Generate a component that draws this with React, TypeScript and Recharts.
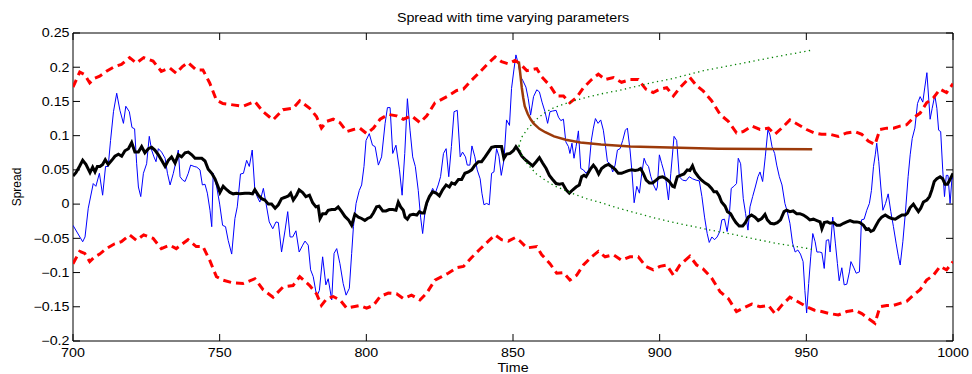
import React from 'react';
import { LineChart, Line, XAxis, YAxis, ReferenceArea } from 'recharts';

const W = 972;
const H = 374;
const PL = 73;
const PR = 953;
const PT = 33;
const PB = 341;
const TICK = 7;
const FONT = '"Liberation Sans", Arial, sans-serif';
const SX = 1.19;

const xTicks = [700, 750, 800, 850, 900, 950, 1000];
const xTickLabels = ['700', '750', '800', '850', '900', '950', '1000'];
const yTicks = [0.25, 0.2, 0.15, 0.1, 0.05, 0, -0.05, -0.1, -0.15, -0.2];
const yTickLabels = ['0.25', '0.2', '0.15', '0.1', '0.05', '0', '\u22120.05', '\u22120.1', '\u22120.15', '\u22120.2'];

const titleText = 'Spread with time varying parameters';
const xLabelText = 'Time';
const yLabelText = 'Spread';

// observed spread (thin blue)
const spreadT = [700, 703.3, 704.1, 705.2, 706.9, 707.8, 709, 710.1, 711.1, 712, 712.8, 713.8, 714.9, 716, 717.2, 718, 719.2, 720.1, 721, 721.7, 722.3, 723.1, 724, 725.1, 726, 726.8, 727.6, 728.3, 729.1, 730.2, 731.4, 732.2, 733.1, 734.2, 735.1, 735.9, 736.5, 737.4, 738.2, 739.3, 740.1, 741.3, 742.2, 743.3, 744.1, 745, 745.8, 746.7, 747.3, 747.8, 749, 750, 751, 752, 752.9, 754.1, 755.2, 756, 757.1, 758.1, 759.2, 760.1, 761.1, 762, 762.8, 763.7, 764.9, 765.8, 766.9, 768.1, 769.2, 770, 771.1, 772.3, 773.2, 774, 774.9, 776, 777.1, 778.3, 779.1, 780.2, 781, 781.9, 783.1, 784, 785.1, 786.2, 787, 788.2, 789, 789.9, 791, 792.1, 793.1, 794.2, 795, 795.6, 796.5, 797.6, 798.4, 799.2, 799.9, 801, 802.1, 803, 804.1, 805.2, 806.4, 807.2, 808.1, 809, 810.1, 811.3, 812.2, 813.1, 814, 814.9, 815.8, 816.7, 817.7, 818.5, 819.2, 820, 820.8, 821.7, 822.6, 823.5, 824.5, 825.3, 826.3, 827.2, 828.1, 829, 829.9, 831, 832, 832.8, 833.8, 834.4, 835.3, 836, 837, 837.8, 838.8, 839.4, 840.1, 841, 841.9, 842.7, 843.5, 844.4, 845.2, 846, 846.9, 847.8, 848.8, 849.5, 850.3, 851, 851.8, 852.6, 853.3, 854.4, 855.2, 856, 857, 858.1, 859, 859.9, 860.9, 861.8, 862.6, 863.5, 864.7, 865.5, 866.3, 867.2, 868, 868.9, 869.4, 870.1, 870.8, 871.5, 872.3, 873.1, 874, 874.9, 875.8, 876.7, 877.4, 878.1, 879, 879.9, 880.8, 881.5, 882.2, 883.1, 884, 884.8, 885.6, 886.5, 887.4, 888.3, 889, 889.9, 890.5, 891.3, 892.2, 893.1, 893.9, 894.7, 895.4, 896.2, 897, 897.9, 898.8, 899.2, 899.9, 900.7, 901.5, 902.2, 903, 903.8, 904.9, 905.8, 906.7, 907.8, 909, 910.1, 911.2, 912.4, 913.5, 914.4, 915.3, 916.2, 916.9, 917.8, 918.7, 919.6, 920.5, 921.2, 922.1, 923, 923.7, 924.4, 925.3, 926.2, 926.8, 927.6, 928.5, 929.3, 930.1, 930.8, 931.7, 932.6, 933.5, 934.2, 935.1, 936, 936.9, 937.6, 938.3, 939.2, 939.9, 940.8, 941.7, 942.7, 943.5, 944.4, 945.3, 946.2, 947.1, 948, 948.9, 949.5, 950.1, 950.8, 951.5, 952.2, 953, 953.6, 954.5, 955.3, 956.1, 956.8, 957.6, 958.1, 959, 959.9, 960.6, 961.2, 962.1, 962.9, 963.8, 964.7, 965.2, 966.1, 967, 968.1, 968.8, 969.7, 970.6, 971.5, 972.2, 972.9, 973.5, 974, 974.7, 975.4, 976.1, 977, 977.9, 978.8, 979.7, 980.6, 981.4, 982, 982.9, 983.8, 984.7, 985.4, 986.1, 987, 987.9, 988.8, 989.7, 990.4, 991.1, 991.8, 992.2, 992.9, 993.8, 994.5, 995.1, 995.8, 996.5, 997.1, 997.7, 998.3, 999, 999.6, 1000];
const spreadV = [-0.031, -0.055, -0.048, -0.006, 0.03, 0.026, 0.045, 0.013, 0.055, 0.055, 0.093, 0.135, 0.162, 0.137, 0.118, 0.143, 0.135, 0.112, 0.11, 0.059, 0.025, 0.011, 0.045, 0.059, 0.099, 0.079, 0.069, 0.062, 0.081, 0.076, 0.067, 0.045, 0.028, 0.045, 0.062, 0.079, 0.04, 0.035, 0.033, 0.045, 0.057, 0.055, 0.054, 0.05, 0.028, 0.029, 0.016, -0.009, -0.033, 0.045, 0.025, 0.0, -0.031, -0.033, -0.053, -0.073, -0.021, -0.004, 0.044, 0.045, 0.064, 0.055, 0.079, 0.02, 0.011, 0.003, 0.023, 0.001, -0.026, -0.036, -0.026, -0.027, -0.07, -0.038, -0.011, -0.048, -0.048, -0.039, -0.07, -0.06, -0.054, -0.06, -0.096, -0.106, -0.135, -0.126, -0.077, -0.118, -0.109, -0.14, -0.072, -0.065, -0.087, -0.116, -0.133, -0.123, -0.072, -0.033, 0.001, 0.02, 0.028, 0.055, 0.093, 0.103, 0.086, 0.084, 0.057, 0.069, 0.118, 0.141, 0.141, 0.074, 0.086, 0.05, 0.013, 0.074, 0.154, 0.108, 0.069, 0.055, 0.02, -0.019, -0.043, -0.011, 0.001, 0.013, 0.023, 0.016, 0.028, 0.04, 0.074, 0.081, 0.04, 0.084, 0.135, 0.137, 0.069, 0.076, 0.069, 0.057, 0.057, 0.085, 0.069, 0.05, 0.037, 0.016, -0.001, 0.001, -0.001, 0.045, 0.047, 0.081, 0.07, 0.042, 0.064, 0.123, 0.115, 0.169, 0.196, 0.218, 0.205, 0.186, 0.181, 0.171, 0.154, 0.13, 0.157, 0.167, 0.164, 0.149, 0.135, 0.118, 0.135, 0.136, 0.137, 0.127, 0.122, 0.124, 0.091, 0.084, 0.074, 0.089, 0.067, 0.084, 0.107, 0.052, 0.05, 0.045, 0.05, 0.093, 0.111, 0.125, 0.118, 0.123, 0.108, 0.086, 0.062, 0.059, 0.047, 0.057, 0.079, 0.081, 0.093, 0.108, 0.111, 0.079, 0.05, 0.002, 0.026, 0.016, 0.045, 0.067, 0.059, 0.055, 0.04, 0.028, 0.02, 0.025, 0.072, 0.059, 0.047, 0.033, 0.006, 0.045, 0.099, 0.093, 0.04, 0.035, 0.034, 0.04, 0.037, 0.035, 0.034, 0.011, -0.019, -0.043, -0.056, -0.048, -0.052, -0.048, -0.04, -0.023, -0.022, -0.04, -0.019, 0.023, 0.026, 0.03, 0.067, 0.059, 0.008, -0.014, -0.038, -0.004, 0.011, 0.025, 0.04, 0.047, 0.033, 0.069, 0.109, 0.101, 0.084, 0.074, 0.057, 0.04, 0.028, 0.001, -0.011, -0.028, -0.057, -0.07, -0.067, -0.073, -0.084, -0.126, -0.159, -0.116, -0.077, -0.043, -0.055, -0.07, -0.07, -0.071, -0.094, -0.053, -0.052, -0.07, -0.019, -0.057, -0.087, -0.112, -0.093, -0.118, -0.117, -0.099, -0.084, -0.092, -0.101, -0.099, -0.023, -0.022, -0.009, 0.001, 0.02, 0.055, 0.072, 0.089, 0.062, 0.025, -0.009, 0.001, 0.015, -0.011, -0.033, -0.057, -0.077, -0.089, -0.055, -0.011, 0.04, 0.072, 0.096, 0.111, 0.147, 0.157, 0.149, 0.171, 0.192, 0.149, 0.124, 0.14, 0.159, 0.14, 0.108, 0.106, 0.05, 0.011, 0.042, 0.042, 0.001, 0.035, 0.04];

// time varying mean (thick black)
const meanT = [700, 701, 702.2, 703.3, 704.4, 705.8, 706.7, 707.5, 708.3, 709.2, 710.1, 711, 712, 713.2, 714.3, 715.5, 716.6, 717.7, 718.9, 720, 721.1, 722.3, 723.4, 724.5, 725.7, 726.8, 727.9, 729.1, 730.2, 731.4, 732.5, 733.6, 734.8, 735.9, 737, 738.2, 739.3, 740.5, 741.6, 742.7, 743.9, 745, 746.1, 747.3, 748.4, 749.5, 750.1, 751.2, 752.4, 753.5, 754.6, 755.8, 756.9, 758.6, 760.1, 761.2, 762, 763.2, 764.3, 765.4, 766.6, 767.7, 768.9, 770, 771.1, 772.3, 773.4, 774.2, 775.1, 776.2, 777.1, 778.3, 779.4, 780.6, 781.7, 782.8, 783.6, 784.2, 785.1, 786.2, 787, 788.2, 789.3, 790.4, 791.6, 792.7, 793.9, 795, 796.1, 797.3, 798.4, 799.5, 800.4, 801.5, 802.4, 803.5, 804.4, 805.6, 806.7, 807.8, 809, 810.1, 810.9, 811.7, 812.6, 813.2, 814, 814.9, 816, 817.2, 818.1, 818.9, 819.7, 820.6, 821.5, 822.6, 823.8, 824.9, 826, 827.2, 828.3, 829.1, 830.2, 831.4, 832.5, 833.6, 834.8, 835.9, 837, 838.2, 839.3, 840.5, 841.6, 842.7, 843.9, 845, 846.1, 846.9, 847.8, 849, 850.1, 851, 851.8, 853, 854.4, 855.6, 856.7, 857.9, 859, 860.1, 861.3, 862.4, 863.5, 864.7, 865.8, 866.9, 868.1, 869.2, 870.4, 871.5, 872.6, 873.4, 874.2, 874.9, 875.7, 876.5, 877.4, 878.3, 879.2, 880.2, 881.4, 882.5, 883.6, 884.8, 885.9, 887, 888.2, 889.3, 890.5, 891.6, 892.7, 893.5, 894.4, 895.4, 896.5, 897.6, 898.8, 899.9, 901, 902.2, 903.3, 904.4, 905, 906, 907.1, 908.3, 909.4, 910.3, 911.2, 912, 913.2, 914.3, 915.4, 916.6, 917.7, 918.5, 919.4, 920.3, 921.1, 922.3, 923.1, 924.2, 925.1, 926, 927.1, 928.3, 929.2, 930.2, 931.3, 932.5, 933.6, 934.8, 935.9, 936.7, 937.8, 939, 940.1, 941.2, 942.4, 943.3, 944.4, 945.5, 946.7, 947.8, 949, 950.1, 951.2, 952.4, 953.6, 954.7, 955.3, 956.1, 957.2, 958.1, 959.3, 960.4, 961.5, 962.7, 963.8, 964.9, 966.1, 967.2, 968.3, 969.5, 970.4, 971.2, 972, 972.9, 973.8, 974.7, 975.7, 976.9, 978, 979.1, 980.3, 981.4, 982.6, 983.7, 984.5, 985.4, 986.5, 987.4, 988.2, 989, 989.9, 991.1, 992, 992.8, 993.6, 994.5, 995.6, 996.5, 997.3, 998.1, 999, 1000];
const meanV = [0.041, 0.046, 0.055, 0.064, 0.058, 0.046, 0.054, 0.047, 0.055, 0.055, 0.058, 0.065, 0.058, 0.064, 0.07, 0.073, 0.07, 0.078, 0.081, 0.09, 0.076, 0.076, 0.084, 0.075, 0.081, 0.083, 0.079, 0.072, 0.064, 0.055, 0.064, 0.069, 0.06, 0.072, 0.069, 0.075, 0.076, 0.072, 0.067, 0.067, 0.067, 0.063, 0.051, 0.045, 0.037, 0.025, 0.017, 0.026, 0.021, 0.017, 0.015, 0.016, 0.015, 0.016, 0.016, 0.015, 0.021, 0.013, 0.008, 0.006, 0.0, 0.0, -0.006, -0.001, 0.008, 0.01, 0.012, 0.016, 0.006, 0.013, 0.021, 0.017, 0.011, 0.013, 0.002, -0.004, -0.003, -0.021, -0.014, -0.014, -0.009, -0.008, -0.008, -0.004, -0.011, -0.018, -0.023, -0.031, -0.015, -0.019, -0.021, -0.024, -0.021, -0.019, -0.013, -0.004, -0.003, -0.01, -0.01, -0.008, -0.008, -0.009, 0.003, -0.004, -0.009, -0.019, -0.022, -0.016, -0.015, -0.016, -0.011, -0.013, -0.013, 0.002, 0.011, 0.018, 0.016, 0.012, 0.021, 0.028, 0.025, 0.031, 0.029, 0.036, 0.036, 0.045, 0.047, 0.05, 0.057, 0.062, 0.062, 0.069, 0.076, 0.083, 0.084, 0.084, 0.084, 0.067, 0.073, 0.074, 0.078, 0.084, 0.079, 0.07, 0.064, 0.06, 0.056, 0.062, 0.068, 0.06, 0.052, 0.042, 0.036, 0.03, 0.029, 0.03, 0.021, 0.016, 0.021, 0.025, 0.028, 0.04, 0.042, 0.04, 0.046, 0.052, 0.057, 0.052, 0.044, 0.052, 0.056, 0.058, 0.055, 0.051, 0.045, 0.045, 0.047, 0.049, 0.05, 0.049, 0.05, 0.052, 0.045, 0.035, 0.031, 0.031, 0.035, 0.039, 0.04, 0.037, 0.033, 0.026, 0.025, 0.04, 0.042, 0.044, 0.05, 0.049, 0.056, 0.047, 0.04, 0.035, 0.031, 0.028, 0.023, 0.018, 0.018, 0.012, 0.003, -0.003, -0.011, -0.014, -0.021, -0.027, -0.032, -0.032, -0.027, -0.019, -0.016, -0.019, -0.024, -0.021, -0.015, -0.023, -0.028, -0.029, -0.027, -0.023, -0.011, -0.009, -0.011, -0.01, -0.014, -0.014, -0.016, -0.019, -0.023, -0.022, -0.024, -0.026, -0.036, -0.027, -0.026, -0.028, -0.027, -0.031, -0.031, -0.028, -0.026, -0.024, -0.026, -0.026, -0.027, -0.031, -0.037, -0.036, -0.04, -0.038, -0.031, -0.024, -0.019, -0.016, -0.019, -0.021, -0.022, -0.019, -0.016, -0.016, -0.013, -0.005, 0.0, -0.006, -0.011, -0.006, 0.003, 0.006, 0.011, 0.021, 0.033, 0.037, 0.04, 0.037, 0.029, 0.029, 0.036, 0.045];

// confidence bands (red dashed)
const bandT = [700, 702.3, 704, 705.7, 707.4, 709.1, 711.4, 714.2, 716.5, 719.3, 721.6, 724.1, 727.3, 730.1, 733, 735.2, 737.3, 739.2, 742, 744.3, 746.6, 748.9, 751.1, 754.5, 758, 762, 764.8, 768.2, 771.6, 775, 777.3, 780.7, 783, 784.7, 786.5, 788.7, 791, 793.3, 795.6, 797.8, 800.1, 802.4, 804.7, 807.5, 810.3, 812.6, 815.4, 818.3, 820.6, 823.4, 825.7, 827.9, 830.8, 833.1, 835.9, 838.7, 841.6, 843.9, 846.1, 848.4, 850.7, 852.4, 854.7, 858.1, 859.8, 862.6, 864.9, 867.2, 869.4, 871.7, 874, 876.8, 879.1, 881.4, 884.2, 887, 889.9, 892.7, 895.3, 897.8, 900.1, 902.4, 904.7, 906.9, 910.3, 912.6, 914.9, 917.7, 920.6, 923.4, 926.2, 928.5, 931.4, 934.2, 937.1, 939.3, 941.6, 944.4, 947.3, 950.1, 952.8, 955.2, 958, 960.9, 963.8, 966.6, 968.9, 971.1, 973.4, 975.1, 977.4, 979.7, 981.9, 984.2, 986.5, 988.8, 991, 993.3, 995.6, 997.8, 1000];
const upperV = [0.171, 0.193, 0.189, 0.177, 0.184, 0.187, 0.194, 0.201, 0.204, 0.214, 0.206, 0.214, 0.209, 0.194, 0.199, 0.191, 0.201, 0.207, 0.196, 0.196, 0.177, 0.152, 0.147, 0.145, 0.143, 0.15, 0.135, 0.123, 0.138, 0.14, 0.151, 0.14, 0.128, 0.111, 0.121, 0.124, 0.119, 0.106, 0.109, 0.111, 0.103, 0.111, 0.124, 0.131, 0.129, 0.124, 0.129, 0.119, 0.129, 0.148, 0.153, 0.158, 0.166, 0.168, 0.181, 0.193, 0.206, 0.215, 0.208, 0.205, 0.21, 0.205, 0.195, 0.198, 0.186, 0.173, 0.158, 0.158, 0.148, 0.156, 0.17, 0.182, 0.19, 0.182, 0.185, 0.178, 0.182, 0.182, 0.168, 0.163, 0.168, 0.17, 0.158, 0.17, 0.185, 0.173, 0.165, 0.151, 0.131, 0.121, 0.104, 0.106, 0.114, 0.109, 0.111, 0.102, 0.111, 0.123, 0.116, 0.109, 0.104, 0.102, 0.102, 0.099, 0.104, 0.106, 0.102, 0.092, 0.087, 0.109, 0.111, 0.111, 0.114, 0.116, 0.126, 0.133, 0.148, 0.155, 0.168, 0.163, 0.176];
const lowerV = [-0.087, -0.069, -0.072, -0.084, -0.077, -0.073, -0.065, -0.058, -0.055, -0.045, -0.053, -0.045, -0.05, -0.065, -0.06, -0.065, -0.058, -0.052, -0.062, -0.062, -0.082, -0.106, -0.111, -0.115, -0.116, -0.109, -0.125, -0.136, -0.121, -0.119, -0.106, -0.119, -0.131, -0.148, -0.138, -0.135, -0.14, -0.152, -0.15, -0.148, -0.152, -0.148, -0.135, -0.13, -0.131, -0.138, -0.133, -0.14, -0.13, -0.111, -0.106, -0.101, -0.093, -0.091, -0.078, -0.066, -0.054, -0.045, -0.052, -0.054, -0.049, -0.054, -0.064, -0.062, -0.074, -0.087, -0.101, -0.1, -0.111, -0.104, -0.089, -0.077, -0.069, -0.077, -0.074, -0.082, -0.077, -0.077, -0.091, -0.096, -0.091, -0.089, -0.104, -0.089, -0.076, -0.089, -0.095, -0.108, -0.128, -0.138, -0.157, -0.152, -0.146, -0.15, -0.148, -0.16, -0.148, -0.136, -0.143, -0.15, -0.155, -0.157, -0.16, -0.162, -0.157, -0.155, -0.16, -0.167, -0.174, -0.15, -0.148, -0.148, -0.145, -0.142, -0.133, -0.125, -0.111, -0.104, -0.091, -0.096, -0.084];

// forecast interval (green dotted)
const fcT = [852, 853, 855, 858, 861, 864, 870, 875, 880, 886, 892, 898, 904, 915, 926, 938, 952];
const fcUpperV = [0.085, 0.098, 0.11, 0.124, 0.134, 0.141, 0.15, 0.156, 0.161, 0.166, 0.172, 0.178, 0.183, 0.195, 0.204, 0.214, 0.225];
const fcLowerV = [0.085, 0.072, 0.058, 0.044, 0.035, 0.027, 0.016, 0.008, 0.002, -0.006, -0.013, -0.02, -0.026, -0.036, -0.045, -0.056, -0.066];

// forecast path (brown)
const pathT = [852, 852.5, 853, 853.5, 854, 855, 856, 857, 859, 861, 864, 868, 873, 880, 890, 900, 920, 952];
const pathV = [0.208, 0.19, 0.17, 0.155, 0.143, 0.132, 0.124, 0.118, 0.11, 0.105, 0.099, 0.094, 0.09, 0.087, 0.084, 0.083, 0.081, 0.08];

const zip = (ts: number[], vs: number[]) => ts.map((t, i) => ({ t, v: vs[i] }));

const spreadData = zip(spreadT, spreadV);
const meanData = zip(meanT, meanV);
const upperData = zip(bandT, upperV);
const lowerData = zip(bandT, lowerV);
const fcUpperData = zip(fcT, fcUpperV);
const fcLowerData = zip(fcT, fcLowerV);
const pathData = zip(pathT, pathV);

const findIdx = (arr: number[], v: number) => arr.findIndex((a) => Math.abs(a - v) < 1e-9);

const XTick = (props: any) => {
  const { x, payload } = props;
  const i = findIdx(xTicks, payload.value);
  return (
    <g>
      <line x1={x} x2={x} y1={PB} y2={PB - TICK} stroke="#000" strokeWidth={1} />
      <line x1={x} x2={x} y1={PT} y2={PT + TICK} stroke="#000" strokeWidth={1} />
      <text
        transform={`translate(${x},${356.7}) scale(${SX},1)`}
        x={0}
        y={0}
        textAnchor="middle"
        fontSize={12}
        fontFamily={FONT}
        fill="#000"
      >
        {xTickLabels[i]}
      </text>
    </g>
  );
};

const YTick = (props: any) => {
  const { y, payload } = props;
  const i = findIdx(yTicks, payload.value);
  return (
    <g>
      <line x1={PL} x2={PL + TICK} y1={y} y2={y} stroke="#000" strokeWidth={1} />
      <line x1={PR} x2={PR - TICK} y1={y} y2={y} stroke="#000" strokeWidth={1} />
      <text
        transform={`translate(${PL - 3.5},${y + 4.3}) scale(${SX},1)`}
        x={0}
        y={0}
        textAnchor="end"
        fontSize={12}
        fontFamily={FONT}
        fill="#000"
      >
        {yTickLabels[i]}
      </text>
    </g>
  );
};

export default function App() {
  return (
    <div style={{ position: 'absolute', left: 0, top: 0, width: W, height: H, background: '#fff' }}>
      <LineChart
        width={W}
        height={H}
        margin={{ top: PT, right: W - PR, bottom: H - PB - 20, left: PL - 60 }}
      >
        <XAxis
          type="number"
          dataKey="t"
          domain={[700, 1000]}
          ticks={xTicks}
          interval={0}
          height={20}
          allowDataOverflow
          axisLine={false}
          tickLine={false}
          tick={(p: any) => <XTick {...p} />}
        />
        <YAxis
          type="number"
          domain={[-0.2, 0.25]}
          ticks={yTicks}
          interval={0}
          width={60}
          allowDataOverflow
          axisLine={false}
          tickLine={false}
          tick={(p: any) => <YTick {...p} />}
        />
        <ReferenceArea x1={700} x2={1000} y1={-0.2} y2={0.25} fill="none" stroke="#000" strokeWidth={1} />
        <Line data={spreadData} dataKey="v" type="linear" stroke="#0000ff" strokeWidth={1} dot={false} isAnimationActive={false} />
        <Line data={meanData} dataKey="v" type="linear" stroke="#000000" strokeWidth={3} dot={false} isAnimationActive={false} />
        <Line data={upperData} dataKey="v" type="linear" stroke="#ff0000" strokeWidth={3} strokeDasharray="8 5" dot={false} isAnimationActive={false} />
        <Line data={lowerData} dataKey="v" type="linear" stroke="#ff0000" strokeWidth={3} strokeDasharray="8 5" dot={false} isAnimationActive={false} />
        <Line data={fcUpperData} dataKey="v" type="linear" stroke="#008000" strokeWidth={1.3} strokeDasharray="1.3 3.4" dot={false} isAnimationActive={false} />
        <Line data={fcLowerData} dataKey="v" type="linear" stroke="#008000" strokeWidth={1.3} strokeDasharray="1.3 3.4" dot={false} isAnimationActive={false} />
        <Line data={pathData} dataKey="v" type="linear" stroke="#9c3a0a" strokeWidth={2.5} dot={false} isAnimationActive={false} />
        <text
          transform={`translate(${(PL + PR) / 2},21.5) scale(${SX},1)`}
          x={0}
          y={0}
          textAnchor="middle"
          fontSize={12}
          fontFamily={FONT}
          fill="#000"
        >
          {titleText}
        </text>
        <text
          transform={`translate(${(PL + PR) / 2},372) scale(${SX},1)`}
          x={0}
          y={0}
          textAnchor="middle"
          fontSize={12}
          fontFamily={FONT}
          fill="#000"
        >
          {xLabelText}
        </text>
        <text
          transform={`translate(20.5,${(PT + PB) / 2}) rotate(-90)`}
          x={0}
          y={0}
          textAnchor="middle"
          fontSize={12}
          fontFamily={FONT}
          fill="#000"
        >
          {yLabelText}
        </text>
      </LineChart>
    </div>
  );
}
